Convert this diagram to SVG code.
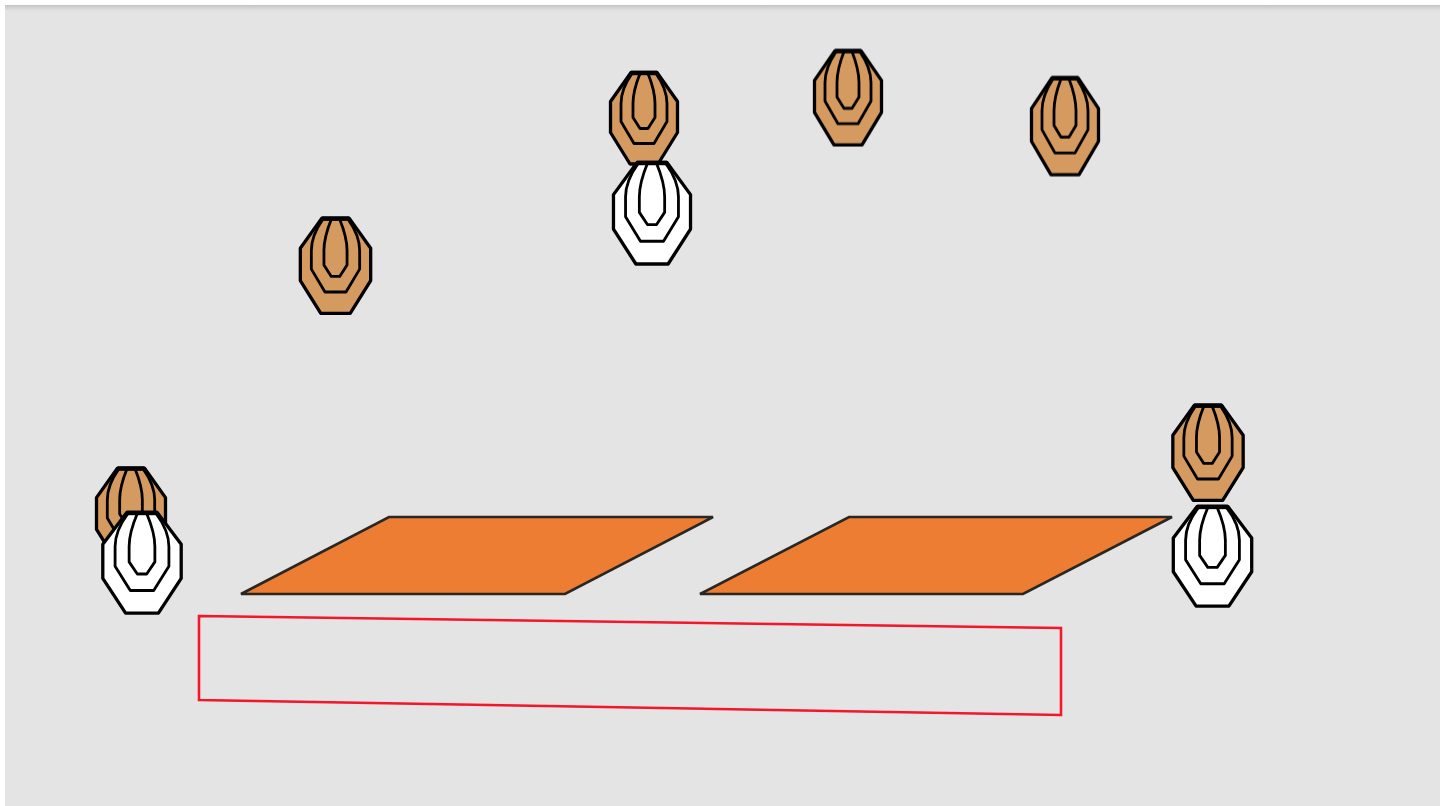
<svg xmlns="http://www.w3.org/2000/svg" width="1448" height="806" viewBox="0 0 1448 806">
<style>
.o,.m,.c{stroke:#000;stroke-linejoin:round;vector-effect:non-scaling-stroke}
.o{stroke-width:3.300}
.m{fill:none;stroke-width:2.800}
.c{fill:none;stroke-width:4.500}
.b{fill:#d59a5e}
.w{fill:#fff}
.pad{fill:#ed7d31;stroke:#2a2622;stroke-width:2.600}
</style>
<defs>
<linearGradient id="top" x1="0" y1="0" x2="0" y2="1"><stop offset="0" stop-color="#c4c4c4"/><stop offset="1" stop-color="#e4e4e4"/></linearGradient>
<filter id="s" x="-10%" y="-10%" width="120%" height="120%"><feGaussianBlur stdDeviation="0.65"/></filter>
<g id="target">
<path class="o" d="M-13,-46H13L33.500,-17V14L14,45.500H-14L-33.500,14V-17Z"/>
<path class="m" d="M-12,-45C-19,-35 -23,-25 -23,-15V3L-10,25H10L23,3V-15C23,-25 19,-35 12,-45"/>
<path class="m" d="M-4,-45C-8,-35 -11,-25 -11,-15V-1L-4,10H4L11,-1V-15C11,-25 8,-35 4,-45"/>
<path class="c" d="M-13,-45.500H13"/>
</g>
</defs>
<rect width="1448" height="806" fill="#fff"/>
<rect x="5" y="5" width="1435" height="801" fill="#e4e4e4"/>
<rect x="5" y="5" width="1435" height="6" fill="url(#top)"/>
<g filter="url(#s)">
<g id="brown-1" class="b"><use href="#target" transform="translate(335.500,266) scale(1.05,1.04)"/></g>
<g id="brown-2" class="b"><use href="#target" transform="translate(644,118.500)"/></g>
<g id="brown-3" class="b"><use href="#target" transform="translate(848,98) scale(1,1.03)"/></g>
<g id="brown-4" class="b"><use href="#target" transform="translate(1065,126.500) scale(1,1.06)"/></g>
<g id="brown-5" class="b"><use href="#target" transform="translate(1208,453) scale(1.05,1.04)"/></g>
<g id="brown-6" class="b"><use href="#target" transform="translate(131,515) scale(1.03,1.02)"/></g>
<g id="white-1" class="w"><use href="#target" transform="translate(652,213.500) scale(1.15,1.11)"/></g>
<g id="white-2" class="w"><use href="#target" transform="translate(142,563) scale(1.17,1.1)"/></g>
<g id="white-3" class="w"><use href="#target" transform="translate(1212.500,556.500) scale(1.17,1.09)"/></g>
<polygon id="pad-1" class="pad" points="241,594 389,517 713,517 565,594"/>
<polygon id="pad-2" class="pad" points="700,594 849,517 1172,517 1023,594"/>
<polygon id="zone" points="199,616 1061,628 1061,715 199,700" fill="none" stroke="#f4142c" stroke-width="2.600"/>
</g>
</svg>
